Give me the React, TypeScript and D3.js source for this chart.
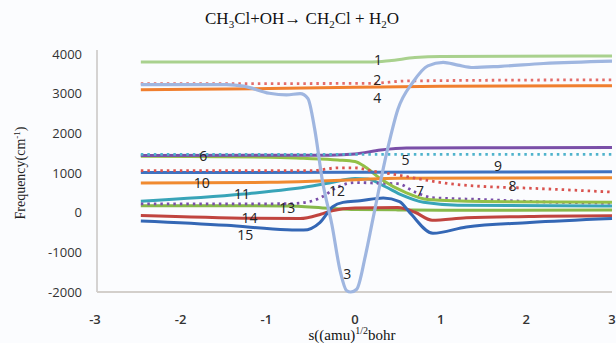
import { useEffect, useRef } from 'react';
import * as d3 from 'd3';

const width = 616;
const height = 343;
const margin = { top: 54, right: 4, bottom: 51, left: 97 };

// tick labels
const xTicks = [-3, -2, -1, 0, 1, 2, 3];
const yTicks = [-2000, -1000, 0, 1000, 2000, 3000, 4000];

// each mode: [s, frequency] pairs
const mode1 = [[-2.5, 3800], [0.2, 3800], [0.4, 3830], [0.7, 3910], [1.0, 3940], [3, 3950]];
const mode2 = [[-2.5, 3250], [0.2, 3260], [0.6, 3320], [3, 3350]];
const mode3 = [
  [-2.5, 3230], [-1.5, 3230], [-1.3, 3190], [-1.0, 3010], [-0.8, 2970], [-0.64, 3000],
  [-0.55, 2880], [-0.47, 2100], [-0.38, 800], [-0.27, -300], [-0.17, -1500], [-0.1, -1960],
  [-0.05, -2000], [0.02, -1930], [0.12, -1100], [0.21, -150], [0.38, 1600], [0.5, 2600],
  [0.68, 3300], [0.85, 3700], [1.03, 3790], [1.2, 3720], [1.38, 3660], [1.7, 3690],
  [2.2, 3760], [3, 3820],
];
const mode4 = [[-2.5, 3100], [-1, 3130], [0, 3160], [1, 3190], [3, 3200]];
const mode5 = [[-2.5, 1470], [3, 1470]];
const mode6 = [[-2.5, 1440], [-0.3, 1450], [0, 1480], [0.3, 1580], [0.6, 1630], [3, 1640]];
const mode7 = [
  [-2.5, 220], [-0.8, 225], [-0.55, 270], [-0.4, 380], [-0.2, 650], [0, 760], [0.3, 740],
  [0.5, 730], [0.7, 520], [0.9, 380], [1.5, 330], [2.2, 270], [3, 240],
];
const mode8 = [
  [-2.5, 1060], [-0.5, 1060], [-0.2, 1130], [0, 1130], [0.2, 1050], [0.5, 950], [0.7, 870],
  [1.1, 730], [1.5, 660], [2, 620], [3, 520],
];
const mode9 = [[-2.5, 1010], [0, 1020], [3, 1030]];
const mode10 = [[-2.5, 750], [-1, 765], [-0.5, 790], [0, 830], [0.5, 870], [3, 880]];
const mode11 = [
  [-2.5, 290], [-1.3, 470], [-0.5, 670], [-0.3, 750], [0, 860], [0.15, 850], [0.35, 660],
  [0.55, 440], [0.8, 260], [1.2, 190], [3, 170],
];
const mode12 = [
  [-2.5, 1420], [-1, 1400], [-0.6, 1370], [-0.2, 1330], [0, 1290], [0.12, 1150], [0.3, 850],
  [0.6, 500], [0.85, 330], [1.5, 280], [3, 260],
];
const mode13 = [[-2.5, 175], [-0.8, 170], [-0.3, 110], [0, 80], [0.5, 70], [1, 60], [3, 70]];
const mode14 = [
  [-2.5, -70], [-1.2, -140], [-0.64, -150], [-0.4, -40], [-0.27, 50], [0, 120], [0.5, 130],
  [0.7, 10], [0.9, -190], [1.3, -130], [2.2, -90], [3, -75],
];
const mode15 = [
  [-2.5, -210], [-1.5, -320], [-0.8, -430], [-0.6, -440], [-0.41, -250], [-0.26, 150],
  [-0.14, 260], [0.06, 300], [0.33, 370], [0.52, 280], [0.64, 0], [0.91, -520],
  [1.3, -360], [2.04, -250], [3, -150],
];

const modes = [mode1, mode2, mode3, mode4, mode5, mode6, mode7, mode8, mode9, mode10, mode11, mode12, mode13, mode14, mode15];
const modeColors = ['#a9d18e', '#e46c6a', '#9fb6e0', '#f07f2f', '#4fb3cc', '#7a4fa8', '#7a4fa8', '#d9534f', '#3f72c0', '#f08a30', '#38a4b8', '#93c047', '#86b84a', '#c0443f', '#3467b5'];
const modeDotted = [false, true, false, false, true, false, true, true, false, false, false, false, false, false, false];
// draw order: bottom first
const drawOrder = [12, 13, 14, 10, 6, 11, 9, 8, 7, 5, 4, 3, 1, 0, 2];

// curve labels
const labelText = ['1', '2', '4', '5', '6', '9', '8', '7', '10', '11', '12', '13', '14', '15', '3'];
const labelS = [0.27, 0.26, 0.26, 0.59, -1.77, 1.67, 1.84, 0.76, -1.79, -1.32, -0.21, -0.79, -1.23, -1.28, -0.09];
const labelV = [3840, 3350, 2880, 1335, 1435, 1180, 680, 550, 755, 480, 555, 125, -140, -560, -1540];

export default function App() {
  const ref = useRef<SVGSVGElement>(null);

  useEffect(() => {
    const svg = d3.select(ref.current);
    svg.selectAll('*').remove();

    const x = d3.scaleLinear().domain([-3, 3]).range([margin.left + 1, width - margin.right]);
    const y = d3.scaleLinear().domain([-2000, 4000]).range([height - margin.bottom, margin.top]);

    svg.append('rect').attr('width', width).attr('height', height).attr('fill', '#fbfcfe');

    // title
    const title = svg.append('text')
      .attr('x', 302).attr('y', 24)
      .attr('text-anchor', 'middle')
      .attr('font-family', '"Liberation Serif", "DejaVu Serif", serif')
      .attr('font-size', 17)
      .attr('fill', '#111');
    title.append('tspan').text('CH');
    title.append('tspan').attr('font-size', 11).attr('dy', 4).text('3');
    title.append('tspan').attr('dy', -4).text('Cl+OH\u2192 CH');
    title.append('tspan').attr('font-size', 11).attr('dy', 4).text('2');
    title.append('tspan').attr('dy', -4).text('Cl + H');
    title.append('tspan').attr('font-size', 11).attr('dy', 4).text('2');
    title.append('tspan').attr('dy', -4).text('O');

    // axes lines
    svg.append('line')
      .attr('x1', margin.left).attr('x2', margin.left)
      .attr('y1', margin.top - 4).attr('y2', y(-2000))
      .attr('stroke', '#c9c6c3').attr('stroke-width', 1.5);
    svg.append('line')
      .attr('x1', margin.left).attr('x2', x(3))
      .attr('y1', y(-2000)).attr('y2', y(-2000))
      .attr('stroke', '#d3cfcb').attr('stroke-width', 2);

    // y tick labels
    svg.append('g').selectAll('text').data(yTicks).join('text')
      .attr('x', 82).attr('y', (d) => y(d))
      .attr('dy', '0.35em')
      .attr('text-anchor', 'end')
      .attr('font-family', '"Open Sans", "DejaVu Sans", sans-serif')
      .attr('font-size', 13)
      .attr('fill', '#333')
      .text((d) => String(d));

    // x tick labels
    svg.append('g').selectAll('text').data(xTicks).join('text')
      .attr('x', (d) => x(d) - (d < 0 ? 3 : 0)).attr('y', 319)
      .attr('dy', '0.35em')
      .attr('text-anchor', 'middle')
      .attr('font-family', '"Open Sans", "DejaVu Sans", sans-serif')
      .attr('font-size', 13)
      .attr('font-weight', 600)
      .attr('fill', '#333')
      .text((d) => String(d));

    // axis titles
    const xt = svg.append('text')
      .attr('x', 352).attr('y', 340)
      .attr('text-anchor', 'middle')
      .attr('font-family', '"Liberation Serif", "DejaVu Serif", serif')
      .attr('font-size', 15)
      .attr('fill', '#111');
    xt.append('tspan').text('s((amu)');
    xt.append('tspan').attr('font-size', 10).attr('dy', -6).text('1/2');
    xt.append('tspan').attr('dy', 6).text('bohr');

    const yt = svg.append('text')
      .attr('transform', `translate(25, 173) rotate(-90)`)
      .attr('text-anchor', 'middle')
      .attr('font-family', '"Liberation Serif", "DejaVu Serif", serif')
      .attr('font-size', 14)
      .attr('fill', '#222');
    yt.append('tspan').text('Frequency(cm');
    yt.append('tspan').attr('font-size', 9).attr('dy', -5).text('-1');
    yt.append('tspan').attr('dy', 5).text(')');

    const line = d3.line<number[]>()
      .x((d) => x(d[0]))
      .y((d) => y(Math.max(-2000, d[1])))
      .curve(d3.curveMonotoneX);

    const lines = svg.append('g');
    drawOrder.forEach((i) => {
      lines.append('path')
        .datum(modes[i])
        .attr('d', line)
        .attr('fill', 'none')
        .attr('stroke', modeColors[i])
        .attr('stroke-width', modeDotted[i] ? 2.8 : i === 2 ? 3.2 : 3)
        .attr('stroke-dasharray', modeDotted[i] ? '2.5 4' : null)
        .attr('stroke-linecap', 'butt');
    });

    svg.append('g').selectAll('text').data(labelText).join('text')
      .attr('x', (d, i) => x(labelS[i]))
      .attr('y', (d, i) => y(labelV[i]))
      .attr('dy', '0.35em')
      .attr('text-anchor', 'middle')
      .attr('font-family', '"Open Sans", "DejaVu Sans", sans-serif')
      .attr('font-size', 14)
      .attr('fill', '#222')
      .text((d) => d);
  }, []);

  return (
    <svg
      ref={ref}
      width={width}
      height={height}
      style={{ position: 'absolute', left: 0, top: 0 }}
    />
  );
}
